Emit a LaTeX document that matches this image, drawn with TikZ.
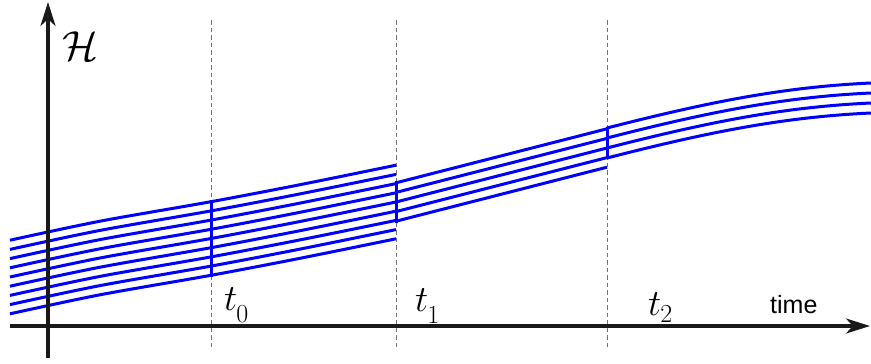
\RequirePackage{fix-cm}
\documentclass[tikz,border=0pt]{standalone}
\usepackage{fontspec}
\newfontfamily\labelsans{Liberation Sans}
\usetikzlibrary{arrows.meta}
\begin{document}
\begin{tikzpicture}[x=1pt,y=-1pt,
  curve/.style={blue, line width=3pt},
  bar/.style={blue, line width=3pt},
  guide/.style={draw=black!55, line width=1pt, dash pattern=on 4.5pt off 3pt},
  axis/.style={draw=black!90, line width=3.2pt, -{Stealth[length=24pt,width=15pt,inset=7pt]}},
  lab/.style={inner sep=0pt, anchor=base west, font=\fontsize{37}{40}\selectfont}]
\useasboundingbox (0,0) rectangle (871,364);
% guides
\coordinate (g0t) at (211,20); \coordinate (g0b) at (211,350);
\coordinate (g1t) at (396,20); \coordinate (g1b) at (396,350);
\coordinate (g2t) at (607,20); \coordinate (g2b) at (607,350);
\draw[guide] (g0t) -- (g0b);
\draw[guide] (g1t) -- (g1b);
\draw[guide] (g2t) -- (g2b);
% section 1
\foreach \k in {-4,...,4}
  \draw[curve, yshift={-1*(\k)*9.2pt}] plot[smooth] coordinates {(10,277) (100,258) (211,238.5) (300,221.5) (396,202)};
% section 2
\foreach \k in {-2,...,2}
  \draw[curve, yshift={-1*(\k)*9.6pt}] (396,202) -- (607,148);
% section 3
\foreach \k in {-2,...,1}
  \draw[curve, yshift={-1*(\k)*10pt}] (607,148) .. controls (707,122.4) and (783,107) .. (871,103);
% bars
\coordinate (b0t) at (211,200.3); \coordinate (b0b) at (211,276.7);
\coordinate (b1t) at (396,181.4); \coordinate (b1b) at (396,222.6);
\coordinate (b2t) at (607,126.6); \coordinate (b2b) at (607,159.4);
\draw[bar] (b0t) -- (b0b);
\draw[bar] (b1t) -- (b1b);
\draw[bar] (b2t) -- (b2b);
% axes
\coordinate (ybot) at (48,358); \coordinate (ytop) at (48,2);
\coordinate (xl) at (10,326); \coordinate (xr) at (870,326);
\draw[axis] (xl) -- (xr);
\draw[axis] (ybot) -- (ytop);
% labels
\node[lab, font=\fontsize{42}{44}\selectfont] (H) at (62,60) {$\mathcal{H}$};
\node[lab] (t0) at (224,310) {$t$\kern-1pt\raisebox{-12pt}{\fontsize{26}{28}\selectfont 0}};
\node[lab] (t1) at (415,311) {$t$\kern-1pt\raisebox{-12pt}{\fontsize{26}{28}\selectfont 1}};
\node[lab] (t2) at (648,315) {$t$\kern-1pt\raisebox{-7pt}{\fontsize{26}{28}\selectfont 2}};
\node[inner sep=0pt, anchor=base west, font=\labelsans\fontsize{25}{28}\selectfont] (time) at (770,313) {time};
\end{tikzpicture}
\end{document}
